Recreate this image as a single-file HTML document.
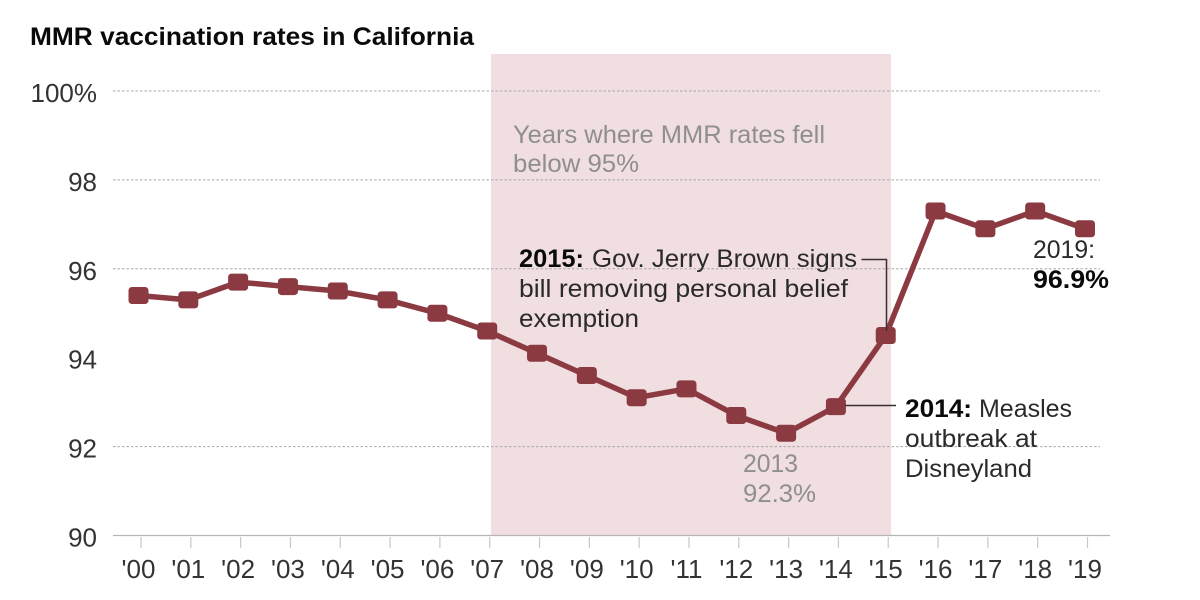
<!DOCTYPE html>
<html lang="en">
<head>
<meta charset="utf-8">
<title>MMR vaccination rates in California</title>
<style>
html,body{margin:0;padding:0;background:#fff;width:1200px;height:600px;overflow:hidden}
svg{display:block}
text{font-family:"Liberation Sans",sans-serif}
.t{font-size:25px;fill:#2a2a2a}
.b{font-size:25px;font-weight:bold;fill:#0a0a0a}
.g{font-size:25px;fill:#8f8f8f}
</style>
</head>
<body>
<svg id="chart" xmlns="http://www.w3.org/2000/svg" width="1200" height="600" viewBox="0 0 1200 600">
  <rect width="1200" height="600" fill="#fff"/>
  <text x="30" y="45" font-size="25" font-weight="bold" fill="#0a0a0a" textLength="444" lengthAdjust="spacingAndGlyphs">MMR vaccination rates in California</text>
  <rect x="491" y="54" width="400" height="481.5" fill="#f0dee0"/>
  <g id="grid"></g>
  <g id="yaxis"></g>
  <g id="xaxis"></g>
  <g id="series"></g>

  <g>
    <text class="g" x="513" y="143" textLength="312" lengthAdjust="spacingAndGlyphs">Years where MMR rates fell</text>
    <text class="g" x="513" y="172" textLength="126" lengthAdjust="spacingAndGlyphs">below 95%</text>
  </g>
  <g>
    <text class="b" x="519" y="267" textLength="65" lengthAdjust="spacingAndGlyphs">2015:</text>
    <text class="t" x="592" y="267" textLength="265" lengthAdjust="spacingAndGlyphs">Gov. Jerry Brown signs</text>
    <text class="t" x="519" y="297" textLength="329" lengthAdjust="spacingAndGlyphs">bill removing personal belief</text>
    <text class="t" x="519" y="327" textLength="120" lengthAdjust="spacingAndGlyphs">exemption</text>
  </g>
  <path d="M861.5 259.5H886.5V331" fill="none" stroke="#3a3033" stroke-width="1.5"/>
  <g>
    <text class="b" x="905" y="417" textLength="67" lengthAdjust="spacingAndGlyphs">2014:</text>
    <text class="t" x="979" y="417" textLength="93" lengthAdjust="spacingAndGlyphs">Measles</text>
    <text class="t" x="905" y="447" textLength="132" lengthAdjust="spacingAndGlyphs">outbreak at</text>
    <text class="t" x="905" y="477" textLength="127" lengthAdjust="spacingAndGlyphs">Disneyland</text>
  </g>
  <path d="M845 405.5H896" fill="none" stroke="#3a3033" stroke-width="1.5"/>
  <g>
    <text class="g" x="743" y="472" textLength="55" lengthAdjust="spacingAndGlyphs">2013</text>
    <text class="g" x="743" y="502" textLength="73" lengthAdjust="spacingAndGlyphs">92.3%</text>
  </g>
  <g>
    <text class="t" x="1033" y="258" textLength="62" lengthAdjust="spacingAndGlyphs">2019:</text>
    <text class="b" x="1033" y="288" textLength="76" lengthAdjust="spacingAndGlyphs">96.9%</text>
  </g>
</svg>
<script>
const categories = ["'00","'01","'02","'03","'04","'05","'06","'07","'08","'09","'10","'11","'12","'13","'14","'15","'16","'17","'18","'19"];
const rates = [95.4,95.3,95.7,95.6,95.5,95.3,95.0,94.6,94.1,93.6,93.1,93.3,92.7,92.3,92.9,94.5,97.3,96.9,97.3,96.9];
const yTicks = [90,92,94,96,98,100];
const yTickLabels = ["90","92","94","96","98","100%"];
const gridValues = [92,96,98,100];

const NS = 'http://www.w3.org/2000/svg';
function x(i){ return 138.5 + i * (1085 - 138.5) / (categories.length - 1); }
function y(v){ return 535.5 - (v - 90) * (535.5 - 91) / 10; }
function make(tag, parent, attrs){
  const el = document.createElementNS(NS, tag);
  for (const k in attrs) el.setAttribute(k, attrs[k]);
  parent.appendChild(el);
  return el;
}

const grid = document.getElementById('grid');
gridValues.forEach(function(v){
  const gl = make('line', grid, {x1:113, x2:1100, y1:y(v), y2:y(v), stroke:'#a8a8a8', 'stroke-width':1, 'stroke-dasharray':'2.5 2'});
  
  
});

const yaxis = document.getElementById('yaxis');
yTicks.forEach(function(v, i){
  const t = make('text', yaxis, {x:97, y:y(v) + 11, 'text-anchor':'end', 'font-size':26, fill:'#333'});
  t.textContent = yTickLabels[i];
  
  
});

const xaxis = document.getElementById('xaxis');
const axisLine = make('line', xaxis, {x1:113, x2:1110, y1:535.5, y2:535.5, stroke:'#b5b5b5', 'stroke-width':1.2});


categories.forEach(function(c, i){
  const tick = make('line', xaxis, {x1:x(i) + 2.5, x2:x(i) + 2.5, y1:537, y2:548, stroke:'#c8c8c8', 'stroke-width':1.2});
  
  
  const lab = make('text', xaxis, {x:x(i), y:578, 'text-anchor':'middle', 'font-size':26, fill:'#333'});
  lab.textContent = c;
  
  
});

const series = document.getElementById('series');
const line = make('polyline', series, {
  points: rates.map(function(v, i){ return x(i) + ',' + y(v); }).join(' '),
  fill:'none', stroke:'#8b3a42', 'stroke-width':5.5, 'stroke-linejoin':'round'
});


rates.forEach(function(v, i){
  const m = make('rect', series, {x:x(i) - 10, y:y(v) - 8.5, width:20, height:17, rx:3.5, ry:3.5, fill:'#8b3a42'});
  
  
});
</script>
</body>
</html>
